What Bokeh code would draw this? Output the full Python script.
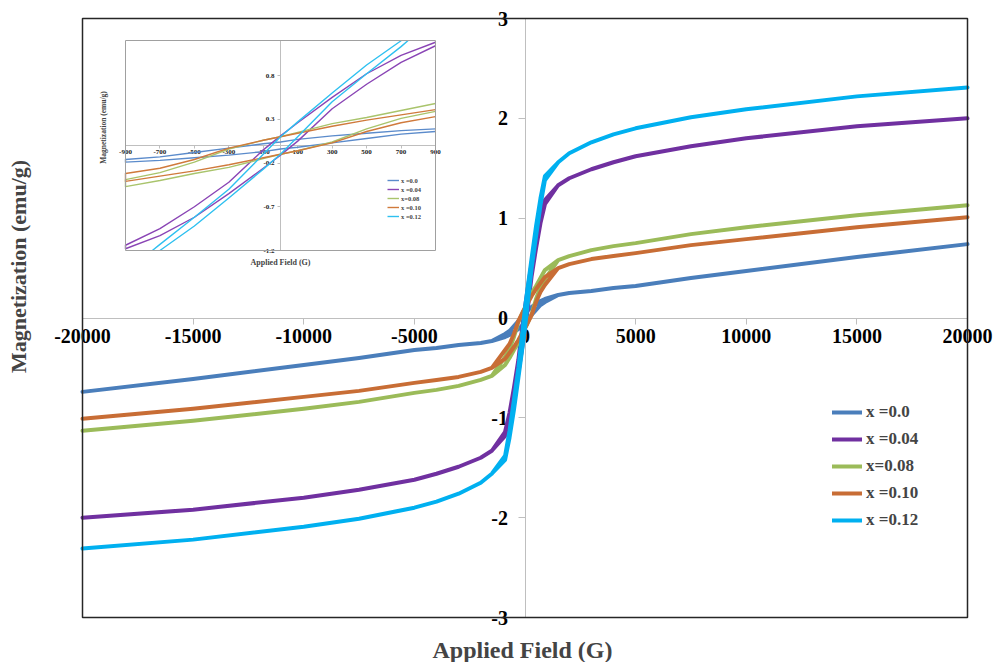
from bokeh.plotting import figure
from bokeh.models import (Range1d, FixedTicker, LinearAxis, Legend, LegendItem, Label,
                          BoxAnnotation)
from bokeh.layouts import column
from bokeh.embed import file_html
from bokeh.resources import INLINE

# ---------------- data ----------------
series_labels = ["x =0.0", "x =0.04", "x=0.08", "x =0.10", "x =0.12"]
main_colors = ["#4A7EBB", "#7030A0", "#9BBB59", "#C86D35", "#00B0F0"]
inset_colors = ["#5B8BCB", "#8A45B5", "#A9C46C", "#D07A3C", "#2EC0F0"]

# axis limits
main_x_lim = [-20000, 20000]
main_y_lim = [-3, 3]
inset_x_lim = [-900, 900]
inset_y_lim = [-1.2, 1.2]

# high-field part of the M-H curves (G, emu/g)
H_high_neg = [-20000, -15000, -10000, -7500, -5000, -4000, -3000, -2000, -1500]
H_high_pos = [1500, 2000, 3000, 4000, 5000, 7500, 10000, 15000, 20000]

M_neg_x000 = [-0.74, -0.61, -0.47, -0.40, -0.32, -0.30, -0.27, -0.25, -0.23]
M_pos_x000 = [0.23, 0.25, 0.27, 0.30, 0.32, 0.40, 0.47, 0.61, 0.74]
M_neg_x004 = [-2.00, -1.92, -1.80, -1.72, -1.62, -1.56, -1.49, -1.40, -1.33]
M_pos_x004 = [1.33, 1.40, 1.49, 1.56, 1.62, 1.72, 1.80, 1.92, 2.00]
M_neg_x008 = [-1.13, -1.03, -0.91, -0.84, -0.75, -0.72, -0.68, -0.62, -0.58]
M_pos_x008 = [0.58, 0.62, 0.68, 0.72, 0.75, 0.84, 0.91, 1.03, 1.13]
M_neg_x010 = [-1.01, -0.91, -0.79, -0.73, -0.65, -0.62, -0.59, -0.54, -0.50]
M_pos_x010 = [0.50, 0.54, 0.59, 0.62, 0.65, 0.73, 0.79, 0.91, 1.01]
M_neg_x012 = [-2.31, -2.22, -2.09, -2.01, -1.90, -1.84, -1.76, -1.65, -1.56]
M_pos_x012 = [1.56, 1.65, 1.76, 1.84, 1.90, 2.01, 2.09, 2.22, 2.31]

# low-field hysteresis branches, upper = descending-field branch
H_low = [-900, -700, -500, -300, -100, 0, 100, 300, 500, 700, 900]
up_x000 = [-0.16, -0.13, -0.08, -0.03, 0.02, 0.04, 0.07, 0.11, 0.14, 0.17, 0.19]
lo_x000 = [-0.19, -0.17, -0.14, -0.11, -0.07, -0.04, -0.02, 0.03, 0.08, 0.13, 0.16]
up_x004 = [-1.14, -0.95, -0.70, -0.42, -0.05, 0.11, 0.26, 0.55, 0.82, 1.03, 1.18]
lo_x004 = [-1.18, -1.03, -0.82, -0.55, -0.26, -0.11, 0.05, 0.42, 0.70, 0.95, 1.14]
up_x008 = [-0.39, -0.31, -0.19, -0.04, 0.06, 0.10, 0.15, 0.25, 0.32, 0.40, 0.48]
lo_x008 = [-0.47, -0.40, -0.32, -0.25, -0.15, -0.10, -0.06, 0.04, 0.19, 0.31, 0.39]
up_x010 = [-0.32, -0.26, -0.16, -0.03, 0.06, 0.10, 0.14, 0.22, 0.29, 0.35, 0.41]
lo_x010 = [-0.41, -0.35, -0.29, -0.22, -0.14, -0.10, -0.06, 0.03, 0.16, 0.26, 0.33]
up_x012 = [-1.38, -1.13, -0.82, -0.50, -0.10, 0.10, 0.27, 0.60, 0.92, 1.20, 1.42]
lo_x012 = [-1.42, -1.20, -0.92, -0.60, -0.27, -0.10, 0.10, 0.50, 0.82, 1.13, 1.38]

# x=0.12 branches as seen inside the inset (they leave the inset box at +/-1.2)
H_up_x012_inset = [-744, -700, -500, -300, -100, 0, 100, 300, 500, 702]
M_up_x012_inset = [-1.20, -1.13, -0.82, -0.50, -0.10, 0.10, 0.27, 0.60, 0.92, 1.20]
H_lo_x012_inset = [-700, -500, -300, -100, 0, 100, 300, 500, 700, 741]
M_lo_x012_inset = [-1.20, -0.92, -0.60, -0.27, -0.10, 0.10, 0.50, 0.82, 1.13, 1.20]

main_x_ticks = [-20000, -15000, -10000, -5000, 0, 5000, 10000, 15000, 20000]
main_x_labels = ["-20000", "-15000", "-10000", "-5000", "0", "5000", "10000", "15000", "20000"]
main_y_ticks = [-3, -2, -1, 0, 1, 2, 3]
main_y_labels = ["-3", "-2", "-1", "0", "1", "2", "3"]
inset_x_ticks = [-900, -700, -500, -300, -100, 100, 300, 500, 700, 900]
inset_x_labels = ["-900", "-700", "-500", "-300", "-100", "100", "300", "500", "700", "900"]
inset_y_ticks = [-1.2, -0.7, -0.2, 0.3, 0.8]
inset_y_labels = ["-1.2", "-0.7", "-0.2", "0.3", "0.8"]

neg_sets = [M_neg_x000, M_neg_x004, M_neg_x008, M_neg_x010, M_neg_x012]
pos_sets = [M_pos_x000, M_pos_x004, M_pos_x008, M_pos_x010, M_pos_x012]
up_sets = [up_x000, up_x004, up_x008, up_x010, up_x012]
lo_sets = [lo_x000, lo_x004, lo_x008, lo_x010, lo_x012]

SERIF = "Liberation Serif"

# ---------------- layout constants (pixels) ----------------
W, H = 996, 662
BOX_L, BOX_R, BOX_T, BOX_B = 82, 967, 18, 617          # main plot box
IW, IH, ILEFT, ITOP = 350, 240, 92, 34                   # inset figure
IBOX_L, IBOX_R, IBOX_T, IBOX_B = 33, 343, 6, 216         # inset plot box (inside inset fig)


def span(lim, lo_px, hi_px, total, flip=False):
    """Range covering the whole canvas so that lim maps onto [lo_px, hi_px]."""
    s = (lim[1] - lim[0]) / (hi_px - lo_px)
    if not flip:
        return Range1d(lim[0] - lo_px * s, lim[1] + (total - hi_px) * s)
    return Range1d(lim[0] - (total - hi_px) * s, lim[1] + lo_px * s)


def style_axis(ax, color, out, stand, size, label_color):
    ax.axis_line_color = color
    ax.major_tick_line_color = color
    ax.major_tick_out = out
    ax.major_tick_in = 0
    ax.minor_tick_out = 0
    ax.minor_tick_in = 0
    ax.major_label_text_font = SERIF
    ax.major_label_text_font_style = "bold"
    ax.major_label_text_font_size = size
    ax.major_label_text_color = label_color
    ax.major_label_standoff = stand
    ax.level = "underlay"


# ---------------- main figure ----------------
p = figure(width=W, height=H,
           x_range=span(main_x_lim, BOX_L, BOX_R, W),
           y_range=span(main_y_lim, BOX_T, BOX_B, H, flip=True),
           output_backend="svg", toolbar_location=None,
           x_axis_location=None, y_axis_location=None,
           min_border=0, outline_line_color=None,
           background_fill_color="white", border_fill_color="white")
p.xgrid.visible = False
p.ygrid.visible = False

xa = LinearAxis(ticker=FixedTicker(ticks=main_x_ticks), fixed_location=0,
                bounds=tuple(main_x_lim),
                major_label_overrides=dict(zip(main_x_ticks, main_x_labels)))
ya = LinearAxis(ticker=FixedTicker(ticks=main_y_ticks), fixed_location=0,
                bounds=tuple(main_y_lim),
                major_label_overrides=dict(zip(main_y_ticks, main_y_labels)))
style_axis(xa, "#BFBFBF", 6, 5, "20px", "black")
style_axis(ya, "#BFBFBF", 7, 10, "20px", "black")
p.add_layout(xa, "below")
p.add_layout(ya, "left")

p.add_layout(BoxAnnotation(left=main_x_lim[0], right=main_x_lim[1],
                           bottom=main_y_lim[0], top=main_y_lim[1],
                           fill_color=None, fill_alpha=0,
                           line_color="#262626", line_alpha=1.0, line_width=1.5))

items = []
for lab, col, mneg, mpos, up, lo in zip(series_labels, main_colors, neg_sets, pos_sets,
                                        up_sets, lo_sets):
    Hb = H_high_neg + H_low + H_high_pos
    Mu = mneg + up + mpos
    Ml = mneg + lo + mpos
    r = p.line(Hb[::-1] + Hb, Mu[::-1] + Ml, line_color=col, line_width=4,
               line_join="round", line_cap="round")
    items.append(LegendItem(label=lab, renderers=[r]))

p.add_layout(Legend(items=items, location=(832, 132), orientation="vertical",
                    label_text_font=SERIF, label_text_font_style="bold",
                    label_text_font_size="17px",
                    glyph_width=30, glyph_height=20, label_height=20, spacing=7,
                    padding=0, margin=0, label_standoff=4,
                    border_line_color=None, background_fill_alpha=0))

p.add_layout(Label(x=522, y=H - 649, x_units="screen", y_units="screen",
                   text="Applied Field (G)", text_align="center", text_baseline="middle",
                   text_font=SERIF, text_font_style="bold", text_font_size="24px"))
p.add_layout(Label(x=18, y=H - 266, x_units="screen", y_units="screen",
                   text="Magnetization (emu/g)", angle=90, angle_units="deg",
                   text_align="center", text_baseline="middle",
                   text_font=SERIF, text_font_style="bold", text_font_size="22px"))

# ---------------- inset figure ----------------
ins = figure(width=IW, height=IH,
             x_range=span(inset_x_lim, IBOX_L, IBOX_R, IW),
             y_range=span(inset_y_lim, IBOX_T, IBOX_B, IH, flip=True),
             output_backend="svg", toolbar_location=None,
             x_axis_location=None, y_axis_location=None,
             min_border=0, outline_line_color=None,
             background_fill_color="white", border_fill_color="white")
ins.xgrid.visible = False
ins.ygrid.visible = False
ins.styles = {"position": "absolute", "left": f"{ILEFT}px", "top": f"{ITOP}px"}

ixa = LinearAxis(ticker=FixedTicker(ticks=inset_x_ticks), fixed_location=0,
                 bounds=tuple(inset_x_lim),
                 major_label_overrides=dict(zip(inset_x_ticks, inset_x_labels)))
iya = LinearAxis(ticker=FixedTicker(ticks=inset_y_ticks), fixed_location=0,
                 bounds=tuple(inset_y_lim),
                 major_label_overrides=dict(zip(inset_y_ticks, inset_y_labels)))
style_axis(ixa, "#BFBFBF", 3, 1, "7px", "#222222")
style_axis(iya, "#BFBFBF", 3, 3, "7px", "#222222")
ins.add_layout(ixa, "below")
ins.add_layout(iya, "left")

ins.add_layout(BoxAnnotation(left=inset_x_lim[0], right=inset_x_lim[1],
                             bottom=inset_y_lim[0], top=inset_y_lim[1],
                             fill_color=None, fill_alpha=0,
                             line_color="#A0A0A0", line_alpha=1.0, line_width=1))

iitems = []
for i, (lab, col, up, lo) in enumerate(zip(series_labels, inset_colors, up_sets, lo_sets)):
    if i == 4:
        r = ins.line(H_up_x012_inset[::-1], M_up_x012_inset[::-1], line_color=col,
                     line_width=1.4, line_join="round")
        ins.line(H_lo_x012_inset, M_lo_x012_inset, line_color=col, line_width=1.4,
                 line_join="round")
    else:
        r = ins.line(H_low[::-1] + H_low, up[::-1] + lo, line_color=col, line_width=1.4,
                     line_join="round")
    iitems.append(LegendItem(label=lab, renderers=[r]))

ins.add_layout(Legend(items=iitems, location=(295, 54), orientation="vertical",
                      label_text_font=SERIF, label_text_font_style="bold",
                      label_text_font_size="6.5px",
                      glyph_width=12, glyph_height=8, label_height=8, spacing=1,
                      padding=0, margin=0, label_standoff=2,
                      border_line_color=None, background_fill_alpha=0))

ins.add_layout(Label(x=188, y=12, x_units="screen", y_units="screen",
                     text="Applied Field (G)", text_align="center", text_baseline="middle",
                     text_font=SERIF, text_font_style="bold", text_font_size="8px"))
ins.add_layout(Label(x=11, y=147, x_units="screen", y_units="screen",
                     text="Magnetization (emu/g)", angle=90, angle_units="deg",
                     text_align="center", text_baseline="middle",
                     text_font=SERIF, text_font_style="bold", text_font_size="7.5px"))

root = column(p, ins, styles={"position": "relative"})
open("out.html", "w").write(file_html(root, INLINE))
